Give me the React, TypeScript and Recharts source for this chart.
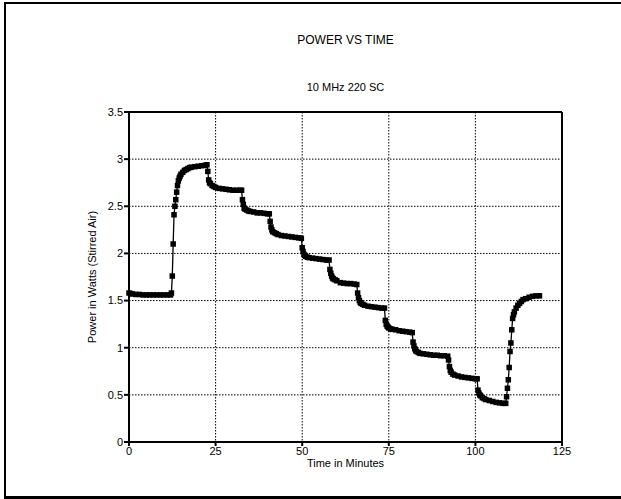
import { LineChart, Line, XAxis, YAxis, CartesianGrid, ReferenceLine } from "recharts";

const minutes = [
  0, 0.5, 1, 2, 3, 4, 5, 6, 7, 8, 9, 10, 11, 12,
  12.25, 12.5, 12.75, 13, 13.25, 13.5, 13.75, 14, 14.25, 14.5, 14.75, 15, 15.5, 16, 16.5, 17, 17.5, 18, 19, 20, 21, 22, 22.5,
  22.75, 23, 23.25, 23.5, 24, 24.5, 25, 26, 27, 28, 29, 30, 31, 32, 32.5,
  32.75, 33, 33.25, 33.5, 34, 34.5, 35, 36, 37, 38, 39, 40, 40.5,
  40.75, 41, 41.25, 41.5, 42, 42.5, 43, 44, 45, 46, 47, 48, 49, 49.75,
  50, 50.25, 50.5, 50.75, 51, 51.5, 52, 53, 54, 55, 56, 57, 57.75,
  58, 58.25, 58.5, 58.75, 59, 59.5, 60, 61, 62, 63, 64, 65, 65.75,
  66, 66.25, 66.5, 66.75, 67, 67.5, 68, 69, 70, 71, 72, 73, 73.75,
  74, 74.25, 74.5, 74.75, 75, 75.5, 76, 77, 78, 79, 80, 81, 81.75,
  82, 82.25, 82.5, 82.75, 83, 83.5, 84, 85, 86, 87, 88, 89, 90, 91, 92,
  92.25, 92.5, 92.75, 93, 93.5, 94, 95, 96, 97, 98, 99, 100, 100.5,
  100.75, 101, 101.25, 101.5, 102, 102.5, 103, 104, 105, 106, 107, 108, 108.75,
  109, 109.25, 109.5, 109.75, 110, 110.25, 110.5, 110.75, 111, 111.25, 111.75, 112.25, 112.75, 113.25, 113.75, 114.5, 115.5, 116.5, 117.5, 118.5,
];
const watts = [
  1.58, 1.575, 1.57, 1.565, 1.565, 1.56, 1.56, 1.56, 1.56, 1.56, 1.56, 1.56, 1.56, 1.56,
  1.58, 1.76, 2.1, 2.41, 2.5, 2.57, 2.65, 2.72, 2.77, 2.8, 2.82, 2.84, 2.86, 2.88, 2.89, 2.9, 2.91, 2.915, 2.92, 2.925, 2.93, 2.935, 2.94,
  2.87, 2.78, 2.75, 2.74, 2.72, 2.71, 2.7, 2.69, 2.685, 2.68, 2.675, 2.67, 2.67, 2.67, 2.67,
  2.57, 2.52, 2.48, 2.47, 2.46, 2.45, 2.445, 2.44, 2.43, 2.43, 2.425, 2.42, 2.42,
  2.34, 2.28, 2.25, 2.23, 2.22, 2.21, 2.2, 2.19, 2.185, 2.18, 2.175, 2.17, 2.165, 2.16,
  2.06, 2.02, 1.99, 1.98, 1.97, 1.96, 1.955, 1.95, 1.945, 1.94, 1.935, 1.93, 1.93,
  1.83, 1.79, 1.76, 1.74, 1.73, 1.72, 1.71, 1.69, 1.685, 1.68, 1.68, 1.675, 1.67,
  1.58, 1.53, 1.5, 1.48, 1.47, 1.46, 1.45, 1.44, 1.435, 1.43, 1.425, 1.42, 1.42,
  1.29, 1.25, 1.23, 1.22, 1.21, 1.2, 1.195, 1.19, 1.18, 1.175, 1.17, 1.165, 1.16,
  1.06, 1.02, 0.99, 0.97, 0.96, 0.95, 0.94, 0.935, 0.93, 0.925, 0.92, 0.92, 0.915, 0.915, 0.91,
  0.87, 0.8, 0.76, 0.74, 0.72, 0.71, 0.7, 0.69, 0.685, 0.68, 0.675, 0.67, 0.67,
  0.55, 0.52, 0.5, 0.49, 0.47, 0.46, 0.45, 0.44, 0.43, 0.42, 0.415, 0.41, 0.41,
  0.48, 0.57, 0.66, 0.79, 0.96, 1.05, 1.19, 1.31, 1.35, 1.38, 1.42, 1.45, 1.47, 1.49, 1.51, 1.52, 1.535, 1.545, 1.55, 1.55,
];
const xTicks = [0, 25, 50, 75, 100, 125];
const yTicks = [0, 0.5, 1, 1.5, 2, 2.5, 3, 3.5];

const data = minutes.map((t, i) => ({ t, w: watts[i] }));

const font = "'Liberation Sans', Arial, sans-serif";
const tickStyle = { fontSize: 11, fill: "#000", fontFamily: font };

function SquareDot({ cx, cy }: { cx?: number; cy?: number }) {
  if (typeof cx !== "number" || typeof cy !== "number") return null;
  return <rect x={cx - 2.75} y={cy - 2.75} width={5.5} height={5.5} fill="#000" />;
}

export default function App() {
  return (
    <div style={{ position: "absolute", left: 0, top: 0, width: 621, height: 499, overflow: "hidden", background: "#fff", fontFamily: font }}>
      <div
        style={{
          position: "absolute", left: 4, top: 2, width: 640, height: 492,
          borderLeft: "2px solid #000", borderTop: "2px solid #000", borderBottom: "3px solid #000",
        }}
      />
      <div style={{ position: "absolute", left: 129, width: 433, top: 33, textAlign: "center", fontSize: 12 }}>POWER VS TIME</div>
      <div style={{ position: "absolute", left: 129, width: 433, top: 81, textAlign: "center", fontSize: 11 }}>10 MHz 220 SC</div>
      <div style={{ position: "absolute", left: 129, width: 433, top: 457, textAlign: "center", fontSize: 11 }}>Time in Minutes</div>
      <div
        style={{
          position: "absolute", left: 92 - 150, width: 300, top: 277 - 7, textAlign: "center",
          fontSize: 11, transform: "rotate(-90deg)", lineHeight: "14px",
        }}
      >
        Power in Watts (Stirred Air)
      </div>
      <LineChart width={621} height={499} data={data} margin={{ top: 112, right: 59, bottom: 27, left: 89 }}>
        <CartesianGrid stroke="#000" strokeDasharray="1.5 1.5" strokeWidth={1} />
        <XAxis
          dataKey="t" type="number" domain={[0, 125]} ticks={xTicks} height={30}
          stroke="#000" strokeWidth={2} tickSize={4} tickMargin={1} tick={tickStyle} interval={0}
        />
        <YAxis
          type="number" domain={[0, 3.5]} ticks={yTicks} width={40}
          stroke="#000" strokeWidth={2} tickSize={5} tickMargin={1} tick={tickStyle} interval={0}
        />
        <ReferenceLine x={125} stroke="#000" strokeWidth={2} />
        <ReferenceLine y={3.5} stroke="#000" strokeWidth={2} />
        <Line
          dataKey="w" type="linear" stroke="#000" strokeWidth={1.3}
          dot={(p: any) => <SquareDot key={p.index} cx={p.cx} cy={p.cy} />}
          activeDot={false} isAnimationActive={false}
        />
      </LineChart>
    </div>
  );
}
